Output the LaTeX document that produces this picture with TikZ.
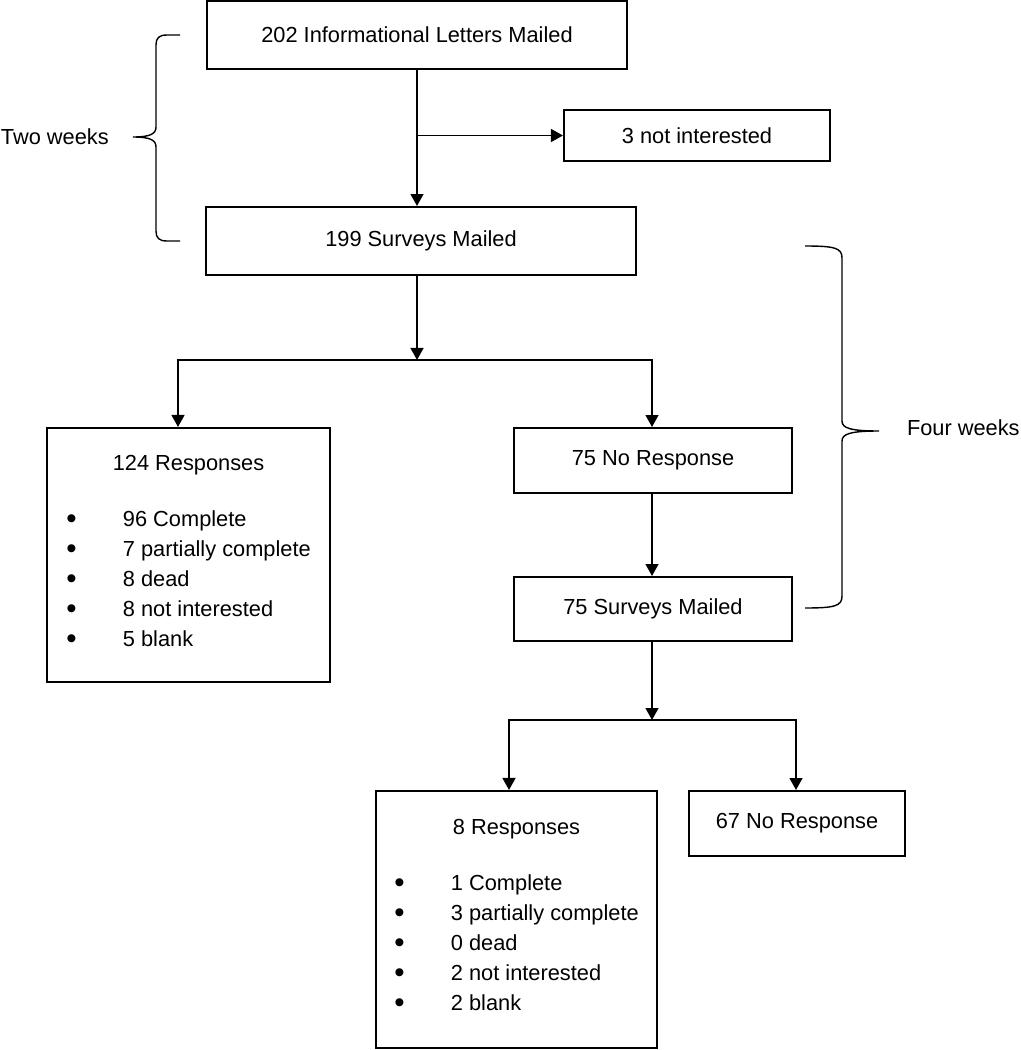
\documentclass[tikz,border=0pt]{standalone}
\usepackage{fontspec}
\setmainfont{Liberation Sans}
\usetikzlibrary{arrows.meta}

\begin{document}
\begin{tikzpicture}[x=0.025cm, y=-0.025cm, line width=1.4pt,
  font=\fontsize{15.5}{21.3}\selectfont,
  box/.style={draw, rectangle, inner sep=0pt, align=center},
  arr/.style={-{Triangle[length=0.3cm,width=0.32cm]}}]
\newcommand{\bul}{\raisebox{-1.3pt}{\scalebox{1.35}{\textbullet}}}
\useasboundingbox (0,0) rectangle (1020,1050);
\node[box, minimum width=10.5cm, minimum height=1.7cm] (letters) at (417,35) {202 Informational Letters Mailed};
\node[box, minimum width=6.65cm, minimum height=1.275cm] (notint) at (697,135.5) {3 not interested};
\node[box, minimum width=10.75cm, minimum height=1.7cm] (surveys) at (421,241) {199 Surveys Mailed};
\node[box, minimum width=7.075cm, minimum height=6.35cm] (resp1) at (188.5,555) {124 Responses\\[21pt]
  \begin{tabular}{@{}l@{\hspace{33pt}}l@{}}
  \bul & 96 Complete\\
  \bul & 7 partially complete\\
  \bul & 8 dead\\
  \bul & 8 not interested\\
  \bul & 5 blank
  \end{tabular}};
\node[box, minimum width=6.95cm, minimum height=1.625cm] (nores1) at (653,460.5) {75 No Response};
\node[box, minimum width=6.95cm, minimum height=1.6cm] (mailed2) at (653,609) {75 Surveys Mailed};
\node[box, minimum width=7.025cm, minimum height=6.425cm] (resp2) at (516.5,919.5) {8 Responses\\[21pt]
  \begin{tabular}{@{}l@{\hspace{33pt}}l@{}}
  \bul & 1 Complete\\
  \bul & 3 partially complete\\
  \bul & 0 dead\\
  \bul & 2 not interested\\
  \bul & 2 blank
  \end{tabular}};
\node[box, minimum width=5.4cm, minimum height=1.625cm] (nores2) at (797,823.5) {67 No Response};
\node[anchor=west, inner sep=0pt] (twoweeks) at (0,137) {Two weeks};
\node[anchor=west, inner sep=0pt] (fourweeks) at (906,428) {Four weeks};

\coordinate (split1) at (417,360);
\coordinate (left1) at (178,360);
\coordinate (right1) at (652,360);
\coordinate (split2) at (652,720);
\coordinate (left2) at (509,720);
\coordinate (right2) at (796,720);

\draw[arr] (letters.south) -- (letters.south |- surveys.north);
\draw[arr] (letters.south |- notint.west) -- (notint.west);
\draw[arr] (surveys.south -| split1) -- (split1);
\draw[arr] (split1) -| (resp1.north -| left1);
\draw[arr] (split1) -| (nores1.north -| right1);
\draw[arr] (nores1.south -| right1) -- (mailed2.north -| right1);
\draw[arr] (mailed2.south -| split2) -- (split2);
\draw[arr] (split2) -| (resp2.north -| left2);
\draw[arr] (split2) -| (nores2.north -| right2);

\draw[line width=1pt] (180,35) -- (167,35) .. controls (159,35) and (156,38) .. (156,45) -- (156,127)
  .. controls (156,134) and (150,137) .. (133,137) .. controls (150,137) and (156,140) .. (156,147)
  -- (156,231) .. controls (156,238) and (159,241) .. (167,241) -- (180,241);
\draw[line width=1pt] (805,246) .. controls (835,246) and (842,248) .. (842,258) -- (842,421)
  .. controls (842,428) and (850,431) .. (879,431) .. controls (850,431) and (842,434) .. (842,441)
  -- (842,596) .. controls (842,606) and (835,608) .. (805,608);
\end{tikzpicture}
\end{document}
